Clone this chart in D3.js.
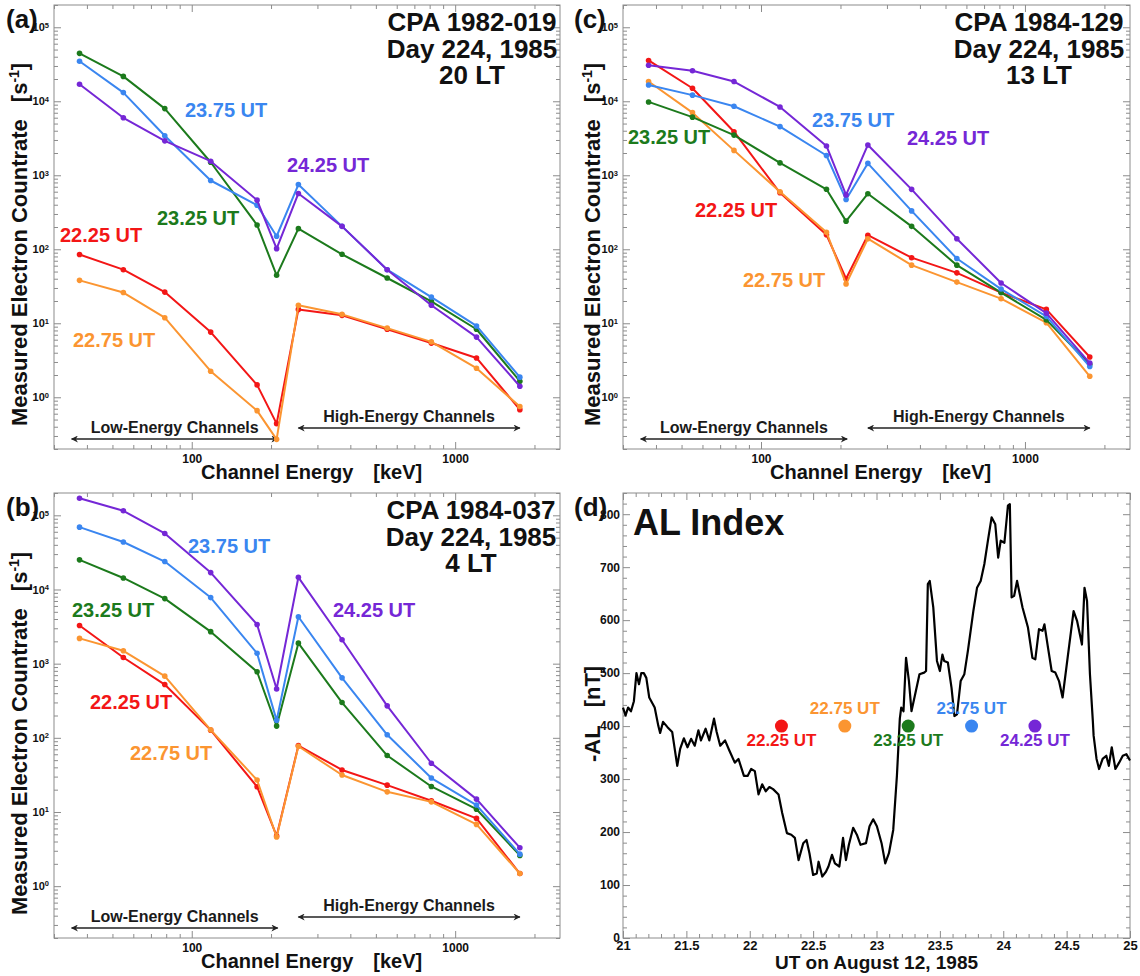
<!DOCTYPE html>
<html>
<head>
<meta charset="utf-8">
<script src="https://cdn.jsdelivr.net/npm/d3@7/dist/d3.min.js"></script>
<style>
  body { margin: 0; background: #fff; }
  svg text { font-family: "Liberation Sans", Arial, Helvetica, sans-serif; font-weight: bold; }
</style>
</head>
<body>
<svg id="fig" width="1140" height="976"></svg>
<script>
// ---------------------------------------------------------------
// Channel energies (keV) of the twelve electron channels
const energyKeV = [37.5, 55, 79, 118, 177, 210, 254, 372, 552, 812, 1205, 1760];
const energyDomain = [30, 2500];
const countDomain = [0.2, 2e5];
const lowEnergySpan = [35, 212];
const highEnergySpan = [254, 1760];

const utNames = ["22.25 UT", "22.75 UT", "23.25 UT", "23.75 UT", "24.25 UT"];
const utHours = [22.25, 22.75, 23.25, 23.75, 24.25];
const utColors = ["#f31616", "#fb9531", "#1c7a1c", "#3a86f0", "#7527d6"];

// CPA 1982-019, Day 224 1985, 20 LT  (counts per second)
const sat82_2225 = [85, 53, 26.4, 7.6, 1.47, 0.44, 15.4, 12.8, 8.3, 5.4, 3.4, 0.68];
const sat82_2275 = [38, 26, 11.9, 2.25, 0.66, 0.27, 17.5, 13.2, 8.6, 5.6, 2.47, 0.75];
const sat82_2325 = [44400, 21700, 7960, 1500, 213, 44.5, 190, 85.5, 40.9, 19.8, 8.3, 1.65];
const sat82_2375 = [34800, 13100, 3420, 850, 393, 150, 750, 204, 53, 22.6, 9.2, 1.87];
const sat82_2425 = [17000, 5980, 2920, 1550, 461, 102, 568, 204, 53, 17.5, 6.5, 1.41];

// CPA 1984-037, Day 224 1985, 4 LT
const sat37_2225 = [3270, 1210, 523, 127, 21.9, 4.75, 78.7, 36.9, 23, 14.2, 8.2, 1.48];
const sat37_2275 = [2190, 1490, 679, 128, 27, 4.6, 77, 31.5, 18.7, 13.7, 6.8, 1.48];
const sat37_2325 = [25100, 14300, 7540, 2700, 778, 144, 1890, 299, 57.7, 22.1, 10.9, 2.6];
const sat37_2375 = [69300, 43700, 23800, 7780, 1380, 172, 4290, 644, 110, 28.7, 12.4, 2.7];
const sat37_2425 = [170000, 115000, 56900, 16900, 3370, 456, 14600, 2100, 270, 45.4, 14.9, 3.3];

// CPA 1984-129, Day 224 1985, 13 LT
const sat129_2225 = [35600, 15000, 3880, 580, 157, 40, 155, 77, 48, 26, 15.4, 3.5];
const sat129_2275 = [18500, 7020, 2170, 600, 170, 34, 139, 61, 36, 21.5, 10.2, 1.92];
const sat129_2325 = [9800, 6100, 3490, 1470, 646, 240, 563, 204, 61, 26, 11.1, 2.8];
const sat129_2375 = [16600, 12100, 8570, 4550, 1850, 470, 1450, 330, 75, 29, 12.4, 2.6];
const sat129_2425 = [30700, 25900, 18500, 8380, 2490, 543, 2570, 645, 139, 35, 13.7, 2.9];

// AL index, 21-25 UT on August 12, 1985 (-AL in nT)
const alHours = [21.000, 21.020, 21.040, 21.063, 21.086, 21.106, 21.126, 21.144, 21.164, 21.184, 21.207, 21.250, 21.279, 21.293, 21.316, 21.351, 21.388, 21.428, 21.451, 21.480, 21.509, 21.537, 21.566, 21.595, 21.615, 21.652, 21.681, 21.718, 21.739, 21.767, 21.805, 21.839, 21.882, 21.911, 21.954, 21.983, 22.011, 22.040, 22.069, 22.098, 22.126, 22.155, 22.184, 22.227, 22.256, 22.293, 22.328, 22.356, 22.385, 22.422, 22.448, 22.471, 22.500, 22.529, 22.543, 22.572, 22.601, 22.621, 22.649, 22.672, 22.707, 22.736, 22.759, 22.782, 22.816, 22.845, 22.874, 22.917, 22.945, 22.974, 23.003, 23.040, 23.069, 23.098, 23.132, 23.161, 23.184, 23.195, 23.213, 23.233, 23.256, 23.276, 23.305, 23.339, 23.376, 23.391, 23.405, 23.420, 23.448, 23.477, 23.500, 23.520, 23.534, 23.563, 23.592, 23.615, 23.635, 23.664, 23.693, 23.721, 23.764, 23.793, 23.822, 23.851, 23.879, 23.908, 23.937, 23.960, 23.980, 24.009, 24.023, 24.037, 24.052, 24.066, 24.086, 24.109, 24.152, 24.195, 24.230, 24.253, 24.282, 24.310, 24.325, 24.353, 24.382, 24.411, 24.440, 24.468, 24.511, 24.555, 24.583, 24.621, 24.641, 24.661, 24.684, 24.707, 24.713, 24.736, 24.756, 24.784, 24.813, 24.833, 24.856, 24.885, 24.914, 24.943, 24.971, 25.000];
const alValues = [435, 420, 435, 428, 447, 500, 479, 500, 500, 491, 454, 435, 400, 387, 408, 398, 389, 325, 357, 377, 360, 376, 363, 392, 373, 395, 373, 414, 389, 363, 373, 354, 331, 338, 306, 306, 319, 315, 271, 290, 277, 285, 281, 271, 236, 198, 195, 189, 147, 179, 185, 160, 119, 122, 144, 116, 125, 135, 157, 141, 135, 189, 147, 176, 208, 195, 176, 179, 211, 224, 211, 179, 141, 160, 204, 306, 414, 435, 428, 529, 485, 428, 460, 498, 501, 504, 668, 674, 624, 523, 504, 535, 523, 520, 472, 419, 422, 485, 498, 542, 617, 661, 674, 706, 750, 794, 781, 718, 750, 746, 781, 816, 819, 643, 646, 674, 624, 586, 529, 526, 583, 580, 592, 548, 504, 501, 485, 454, 535, 617, 598, 554, 661, 636, 498, 409, 382, 338, 319, 338, 344, 325, 360, 319, 331, 344, 347, 335];
const alDomain = [0, 840];
const utDomain = [21, 25];
const alMarkerLevel = 400;
// ---------------------------------------------------------------

const AXIS = "#8c8c8c";
const INK = "#111";
const svg = d3.select("#fig");

function decadeTicks(lo, hi) {
  const major = [], minor = [];
  for (let e = Math.floor(Math.log10(lo)); e <= Math.ceil(Math.log10(hi)); e++) {
    const b = Math.pow(10, e);
    for (let k = 1; k < 10; k++) {
      const v = +(k * b).toPrecision(6);
      if (v < lo * 0.999 || v > hi * 1.001) continue;
      (k === 1 ? major : minor).push(v);
    }
  }
  return { major, minor };
}

function addAxis(g, axis, pos, ticks, size, fmt, pad) {
  const a = g.append("g")
    .attr("transform", `translate(${pos[0]},${pos[1]})`)
    .call(axis.tickValues(ticks).tickSize(size).tickPadding(pad == null ? 3 : pad)
      .tickFormat(fmt || (() => "")));
  a.attr("font-family", null).attr("font-size", null);
  a.select(".domain").remove();
  a.selectAll(".tick line").attr("stroke", AXIS).attr("stroke-width", 1);
  a.selectAll(".tick text").attr("fill", INK);
  return a;
}

function arrowDefs() {
  const defs = svg.append("defs");
  defs.append("marker").attr("id", "ah").attr("viewBox", "0 0 10 10")
    .attr("refX", 9).attr("refY", 5).attr("markerWidth", 9).attr("markerHeight", 7)
    .attr("markerUnits", "userSpaceOnUse").attr("orient", "auto-start-reverse")
    .append("path").attr("d", "M0,0 L10,5 L0,10 L3,5 Z").attr("fill", "#222");
}
arrowDefs();

function spectrumPanel(opt) {
  const { left, right, top, bottom } = opt.box;
  const x = d3.scaleLog().domain(energyDomain).range([left, right]);
  const y = d3.scaleLog().domain(countDomain).range([bottom, top]);
  const g = svg.append("g");
  const xt = decadeTicks(energyDomain[0], energyDomain[1]);
  const yt = decadeTicks(countDomain[0], countDomain[1]);

  addAxis(g, d3.axisBottom(x), [0, bottom], xt.minor, -4);
  const xb = addAxis(g, d3.axisBottom(x), [0, bottom], xt.major, -7, d3.format("d"), 5);
  xb.selectAll(".tick text").attr("font-size", 12);
  addAxis(g, d3.axisTop(x), [0, top], xt.minor, -4);
  addAxis(g, d3.axisTop(x), [0, top], xt.major, -7);
  addAxis(g, d3.axisLeft(y), [left, 0], yt.minor, -4);
  const yl = addAxis(g, d3.axisLeft(y), [left, 0], yt.major, -7, () => "", 5);
  yl.selectAll(".tick text").attr("font-size", 11).each(function (d) {
    const t = d3.select(this);
    t.append("tspan").text("10");
    t.append("tspan").attr("dy", "-0.5em").attr("font-size", 7.5).text(Math.round(Math.log10(d)));
  });
  addAxis(g, d3.axisRight(y), [right, 0], yt.minor, -4);
  addAxis(g, d3.axisRight(y), [right, 0], yt.major, -7);
  g.append("rect").attr("x", left).attr("y", top)
    .attr("width", right - left).attr("height", bottom - top)
    .attr("fill", "none").attr("stroke", AXIS).attr("stroke-width", 1);

  // channel group arrows
  const spans = [
    { span: lowEnergySpan, name: "Low-Energy Channels", yy: bottom - 10 },
    { span: highEnergySpan, name: "High-Energy Channels", yy: bottom - 21 }
  ];
  spans.forEach(s => {
    g.append("line").attr("x1", x(s.span[0])).attr("x2", x(s.span[1]))
      .attr("y1", s.yy).attr("y2", s.yy).attr("stroke", "#222").attr("stroke-width", 1.3)
      .attr("marker-start", "url(#ah)").attr("marker-end", "url(#ah)");
    g.append("text").attr("x", (x(s.span[0]) + x(s.span[1])) / 2).attr("y", s.yy - 6)
      .attr("text-anchor", "middle").attr("font-size", 16).attr("fill", "#1a1a1a")
      .text(s.name);
  });

  // spectra
  const line = d3.line().x((d, i) => x(energyKeV[i])).y(d => y(d));
  opt.series.forEach((vals, k) => {
    g.append("path").attr("d", line(vals)).attr("fill", "none")
      .attr("stroke", utColors[k]).attr("stroke-width", 2).attr("stroke-linejoin", "round");
    g.selectAll(null).data(vals).join("circle")
      .attr("cx", (d, i) => x(energyKeV[i])).attr("cy", d => y(d)).attr("r", 2.8)
      .attr("fill", utColors[k]);
  });

  // series labels
  opt.labels.forEach((p, k) => {
    g.append("text").attr("x", p[0]).attr("y", p[1]).attr("font-size", 20)
      .attr("fill", utColors[k]).text(utNames[k]);
  });

  // heading
  opt.heading.forEach((s, i) => {
    g.append("text").attr("x", opt.headingX).attr("y", top + 26 + i * 26.5)
      .attr("text-anchor", "middle").attr("font-size", 26).attr("fill", INK).text(s);
  });
  g.append("text").attr("x", opt.letterX).attr("y", top + 23).attr("font-size", 26)
    .attr("fill", INK).text(opt.letter);

  // axis titles
  const yTitle = g.append("text")
    .attr("transform", `translate(${opt.yTitleX},${bottom - 23}) rotate(-90)`)
    .attr("font-size", 22).attr("fill", INK);
  yTitle.append("tspan").text("Measured Electron Countrate");
  yTitle.append("tspan").attr("dx", 17).text("[s");
  yTitle.append("tspan").attr("dy", -8).attr("font-size", 14).text("-1");
  yTitle.append("tspan").attr("dy", 8).text("]");

  const xTitle = g.append("text").attr("x", left + 147).attr("y", bottom + 30)
    .attr("font-size", 20).attr("fill", INK);
  xTitle.append("tspan").text("Channel Energy");
  xTitle.append("tspan").attr("dx", 20).text("[keV]");
}

spectrumPanel({
  box: { left: 54, right: 560, top: 5, bottom: 449 },
  series: [sat82_2225, sat82_2275, sat82_2325, sat82_2375, sat82_2425],
  labels: [[60, 242], [73, 347], [157, 225], [185, 117], [287, 172]],
  heading: ["CPA 1982-019", "Day 224, 1985", "20 LT"], headingX: 472,
  letter: "(a)", letterX: 6, yTitleX: 27
});

spectrumPanel({
  box: { left: 54, right: 560, top: 493, bottom: 938 },
  series: [sat37_2225, sat37_2275, sat37_2325, sat37_2375, sat37_2425],
  labels: [[90, 709], [130, 760], [72, 617], [188, 553], [333, 617]],
  heading: ["CPA 1984-037", "Day 224, 1985", "4 LT"], headingX: 471,
  letter: "(b)", letterX: 6, yTitleX: 27
});

spectrumPanel({
  box: { left: 623, right: 1130, top: 5, bottom: 449 },
  series: [sat129_2225, sat129_2275, sat129_2325, sat129_2375, sat129_2425],
  labels: [[695, 217], [743, 287], [628, 144], [812, 127], [907, 145]],
  heading: ["CPA 1984-129", "Day 224, 1985", "13 LT"], headingX: 1039,
  letter: "(c)", letterX: 574, yTitleX: 600
});

// ---- AL index panel ----
(function alPanel() {
  const left = 623, right = 1130, top = 493, bottom = 938;
  const x = d3.scaleLinear().domain(utDomain).range([left, right]);
  const y = d3.scaleLinear().domain(alDomain).range([bottom, top]);
  const g = svg.append("g");
  const xMajor = d3.range(21, 25.001, 0.5);
  const xMinor = d3.range(210, 251).map(d => d / 10).filter(v => Math.abs(v * 2 - Math.round(v * 2)) > 1e-6);
  const yMajor = d3.range(0, 801, 100);
  const yMinor = d3.range(0, 841, 20).filter(v => v % 100 !== 0);

  addAxis(g, d3.axisBottom(x), [0, bottom], xMinor, -4);
  const xb = addAxis(g, d3.axisBottom(x), [0, bottom], xMajor, -7, d => String(d), 3);
  xb.selectAll(".tick text").attr("font-size", 13);
  addAxis(g, d3.axisTop(x), [0, top], xMinor, -4);
  addAxis(g, d3.axisTop(x), [0, top], xMajor, -7);
  addAxis(g, d3.axisLeft(y), [left, 0], yMinor, -4);
  const yl = addAxis(g, d3.axisLeft(y), [left, 0], yMajor, -7, d => String(d), 3);
  yl.selectAll(".tick text").attr("font-size", 12);
  addAxis(g, d3.axisRight(y), [right, 0], yMinor, -4);
  addAxis(g, d3.axisRight(y), [right, 0], yMajor, -7);
  g.append("rect").attr("x", left).attr("y", top)
    .attr("width", right - left).attr("height", bottom - top)
    .attr("fill", "none").attr("stroke", AXIS).attr("stroke-width", 1);

  const line = d3.line().x(d => x(d[0])).y(d => y(d[1]));
  g.append("path").attr("d", line(d3.zip(alHours, alValues)))
    .attr("fill", "none").attr("stroke", "#000").attr("stroke-width", 2.2)
    .attr("stroke-linejoin", "round");

  utHours.forEach((h, k) => {
    g.append("circle").attr("cx", x(h)).attr("cy", y(alMarkerLevel)).attr("r", 6.5)
      .attr("fill", utColors[k]);
    const above = k % 2 === 1;
    g.append("text").attr("x", x(h)).attr("y", y(alMarkerLevel) + (above ? -12 : 20))
      .attr("text-anchor", "middle").attr("font-size", 17).attr("fill", utColors[k])
      .text(utNames[k]);
  });

  g.append("text").attr("x", 633).attr("y", 535).attr("font-size", 36).attr("fill", INK)
    .text("AL Index");
  g.append("text").attr("x", 574).attr("y", top + 23).attr("font-size", 26).attr("fill", INK)
    .text("(d)");

  const yTitle = g.append("text")
    .attr("transform", `translate(600,762) rotate(-90)`)
    .attr("font-size", 22).attr("fill", INK);
  yTitle.append("tspan").text("-AL");
  yTitle.append("tspan").attr("dx", 18).text("[nT]");

  g.append("text").attr("x", (left + right) / 2).attr("y", bottom + 31)
    .attr("text-anchor", "middle").attr("font-size", 19).attr("fill", INK)
    .text("UT on August 12, 1985");
})();
</script>
</body>
</html>
